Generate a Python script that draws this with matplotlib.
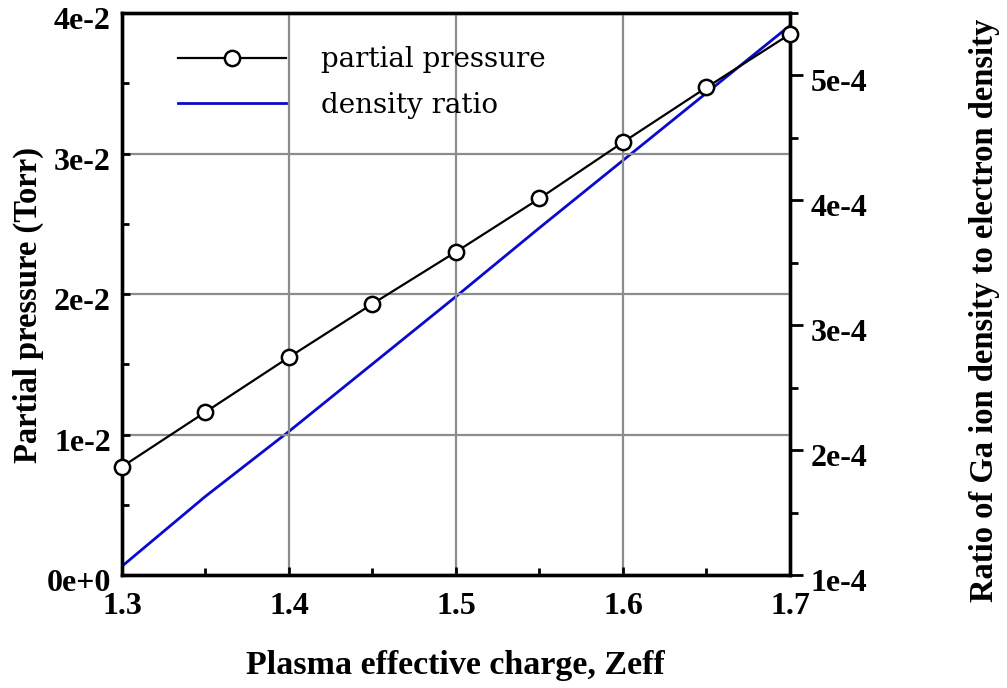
import matplotlib
matplotlib.use("Agg")
import matplotlib.pyplot as plt
from matplotlib.ticker import MultipleLocator
from matplotlib.transforms import ScaledTranslation

# Plasma effective charge
zeff = [1.30, 1.35, 1.40, 1.45, 1.50, 1.55, 1.60, 1.65, 1.70]
# Ga partial pressure (Torr)
partial_pressure = [0.0077, 0.0116, 0.0155, 0.0193, 0.0230, 0.0268, 0.0308, 0.0347, 0.0385]
# Ratio of Ga ion density to electron density
density_ratio = [1.07e-4, 1.63e-4, 2.15e-4, 2.69e-4, 3.23e-4, 3.78e-4, 4.32e-4, 4.86e-4, 5.40e-4]

x_ticks = [1.3, 1.4, 1.5, 1.6, 1.7]
left_ticks = [0.0, 0.01, 0.02, 0.03, 0.04]
left_tick_labels = ["0e+0", "1e-2", "2e-2", "3e-2", "4e-2"]
right_ticks = [1e-4, 2e-4, 3e-4, 4e-4, 5e-4]
right_tick_labels = ["1e-4", "2e-4", "3e-4", "4e-4", "5e-4"]

BOLD_FONT = ["Liberation Serif", "DejaVu Serif"]
LEGEND_FONT = ["DejaVu Serif"]
plt.rcParams["font.family"] = BOLD_FONT

fig = plt.figure(figsize=(10.07, 6.88), dpi=100)
ax = fig.add_axes([0.1211, 0.1642, 0.6634, 0.8169])
ax2 = ax.twinx()

ax.set_xlim(1.3, 1.7)
ax.set_ylim(0, 0.04)
ax2.set_ylim(1e-4, 5.5e-4)

# grid
ax.set_axisbelow(True)
ax.grid(True, which="major", color="#8c8c8c", linewidth=1.6)

line_pp, = ax.plot(zeff, partial_pressure, color="black", linewidth=1.6,
                   marker="o", markersize=11, markerfacecolor="white",
                   markeredgecolor="black", markeredgewidth=1.8,
                   label="partial pressure", zorder=4, clip_on=False)
line_dr, = ax2.plot(zeff, density_ratio, color="#0a0acc", linewidth=2.0,
                    label="density ratio", zorder=3)
ax.set_zorder(ax2.get_zorder() + 1)
ax.patch.set_visible(False)

for a in (ax, ax2):
    for s in a.spines.values():
        s.set_linewidth(2.4)
        s.set_color("black")

ax.set_xticks(x_ticks)
ax.set_xticklabels([f"{v:.1f}" for v in x_ticks])
ax.xaxis.set_minor_locator(MultipleLocator(0.05))
ax.set_yticks(left_ticks)
ax.set_yticklabels(left_tick_labels)
ax.yaxis.set_minor_locator(MultipleLocator(0.005))
ax.tick_params(axis="both", which="major", direction="in", length=6, width=2,
               labelsize=23)
ax.tick_params(axis="both", which="minor", direction="in", length=5, width=2)
ax.tick_params(axis="x", which="major", pad=12)
ax.tick_params(axis="y", which="major", pad=8)

ax2.set_yticks(right_ticks)
ax2.set_yticklabels(right_tick_labels)
ax2.yaxis.set_minor_locator(MultipleLocator(0.5e-4))
ax2.tick_params(axis="y", which="major", direction="out", length=9, width=2,
                labelsize=23, pad=6)
ax2.tick_params(axis="y", which="minor", direction="out", length=6, width=2)

for lab in ax.get_xticklabels() + ax.get_yticklabels() + ax2.get_yticklabels():
    lab.set_fontweight("bold")
shift = ScaledTranslation(0, -5 / 100, fig.dpi_scale_trans)
for lab in ax.get_yticklabels() + ax2.get_yticklabels():
    lab.set_transform(lab.get_transform() + shift)

fig.text(0.452, 0.0334, "Plasma effective charge, Zeff", ha="center",
         va="center", fontsize=24.5, fontweight="bold")
fig.text(0.0278, 0.557, "Partial pressure (Torr)", rotation=90, ha="center",
         va="center", fontsize=23.5, fontweight="bold")
fig.text(0.978, 0.549, "Ratio of Ga ion density to electron density",
         rotation=90, ha="center", va="center", fontsize=23.5, fontweight="bold")

leg = ax.legend(handles=[line_pp, line_dr], loc="upper left",
                bbox_to_anchor=(0.046, 0.985), frameon=False,
                prop={"family": LEGEND_FONT, "size": 20},
                handlelength=3.9, handletextpad=1.26, labelspacing=0.66)

fig.savefig("out.png", dpi=100, facecolor="white")
